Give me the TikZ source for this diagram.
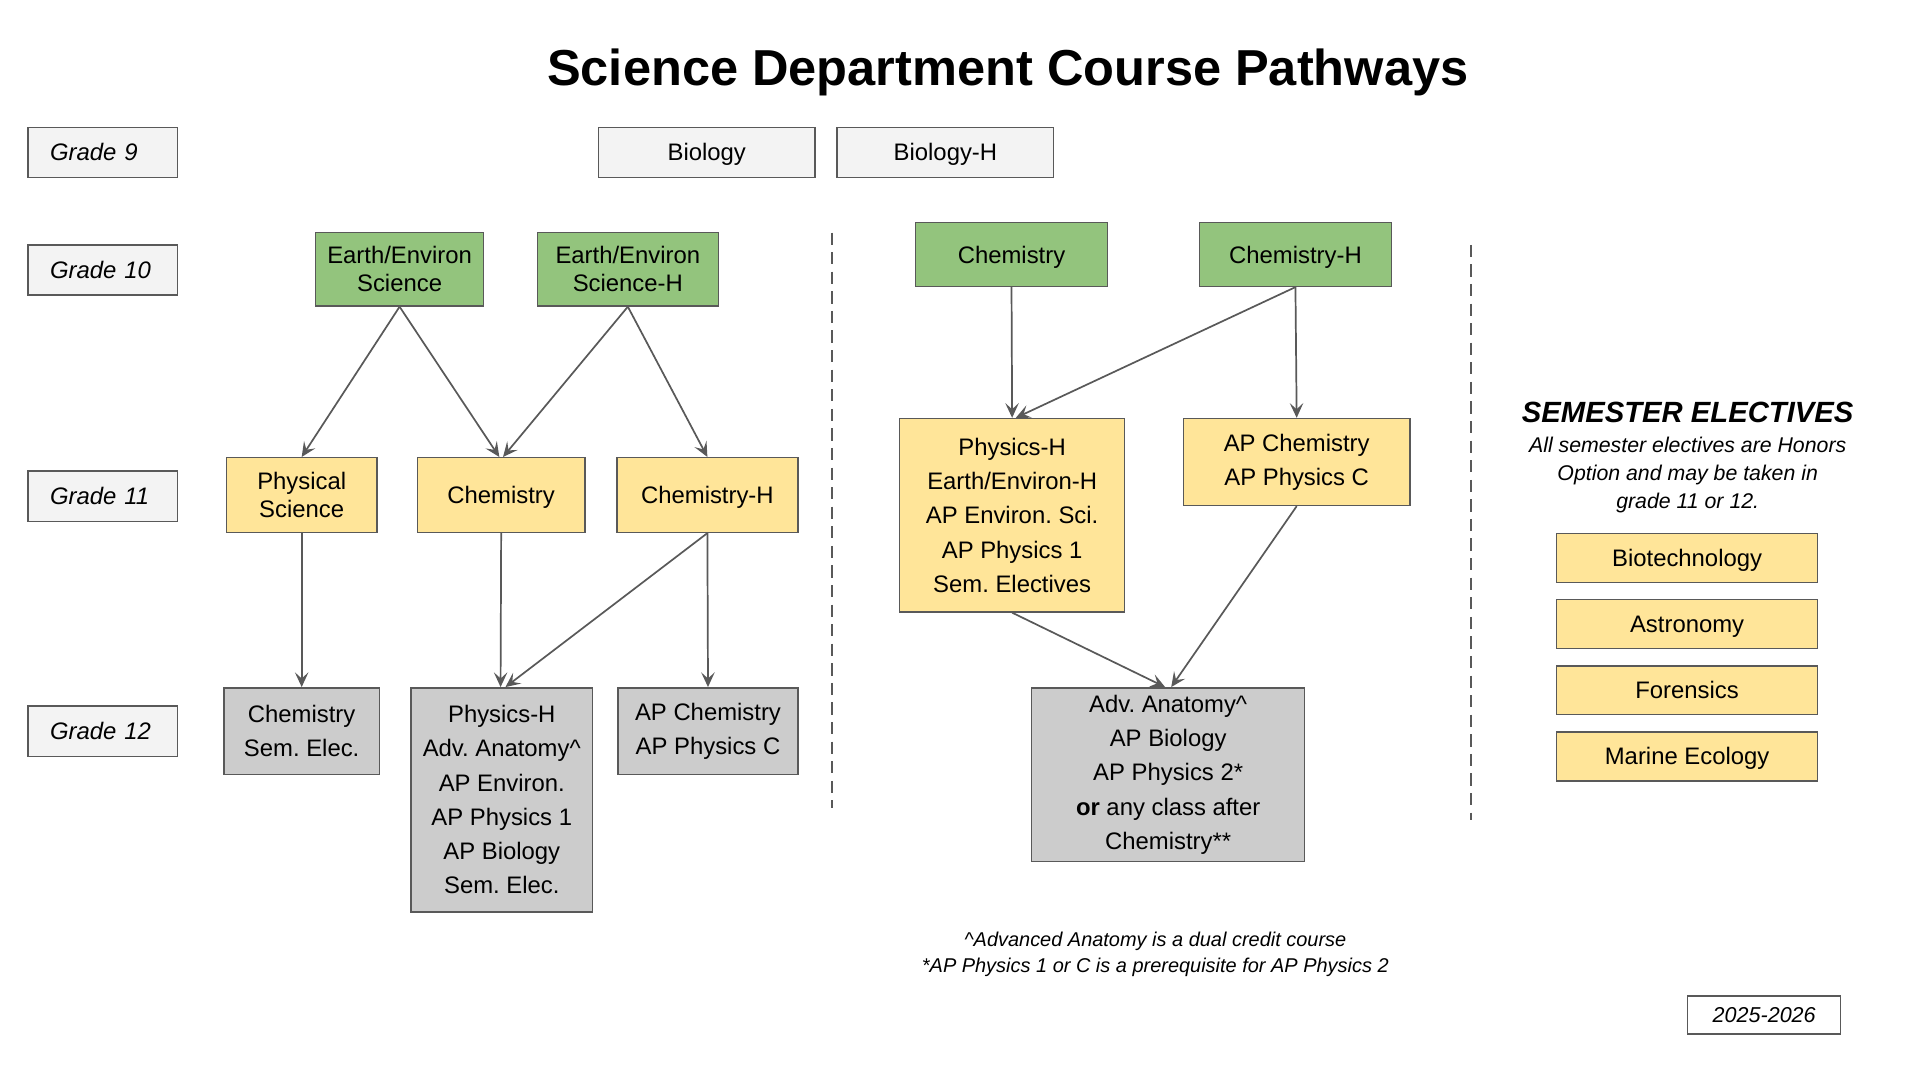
\documentclass[tikz,border=0pt]{standalone}
\usepackage{fontspec}
\setmainfont{Liberation Sans}
\usetikzlibrary{positioning,arrows.meta}
\definecolor{PathGreen}{HTML}{93C47D}
\definecolor{PathYellow}{HTML}{FFE599}
\definecolor{PathGray}{HTML}{CCCCCC}
\definecolor{PathLight}{HTML}{F3F3F3}
\definecolor{PathLine}{HTML}{595959}
\frenchspacing

\begin{document}
\begin{tikzpicture}[x=1pt,y=-1pt,
node distance=12.8pt,
course/.style={rectangle,draw=PathLine,line width=1.2pt,align=center,inner sep=0pt,
font=\fontsize{19.5}{28}\selectfont},
tight/.style={font=\fontsize{19.5}{23}\selectfont},
oneline/.style={text height=18pt,text depth=4pt},
grade/.style={course,oneline,fill=PathLight,minimum width=122pt,minimum height=41pt,
inner xsep=18pt,text width=86pt,align=left,font=\fontsize{19.5}{23}\selectfont\itshape},
g10box/.style={course,tight,fill=PathGreen},
g11box/.style={course,fill=PathYellow},
g12box/.style={course,fill=PathGray},
elective/.style={course,oneline,fill=PathYellow,minimum width=213pt,minimum height=40pt},
arrow/.style={-{Stealth[length=12pt,width=11pt,inset=5pt]},line width=1.4pt,draw=PathLine},
divider/.style={draw=PathLine,line width=1.2pt,dash pattern=on 10pt off 6pt}
]
\useasboundingbox (0,0) rectangle (1568,882);

% title
\node[anchor=base,font=\fontsize{41.3}{49}\selectfont\bfseries] (title) at (823.5,70)
{Science Department Course Pathways};

% grade labels
\node[grade] (g9) at (84,124.5) {Grade 9};
\node[grade] (g10) at (84,220.5) {Grade 10};
\node[grade] (g11) at (84,405.5) {Grade 11};
\node[grade] (g12) at (84,597.5) {Grade 12};

% grade 9
\node[course,oneline,fill=PathLight,minimum width=177pt,minimum height=41pt] (bio) at (577.5,124.5) {Biology};
\node[course,oneline,fill=PathLight,minimum width=177pt,minimum height=41pt] (bioh) at (772.5,124.5) {Biology-H};

% grade 10
\node[g10box,minimum width=137pt,minimum height=60pt] (ees) at (326.5,220) {Earth/Environ\\Science};
\node[g10box,minimum width=148pt,minimum height=60pt] (eesh) at (513,220) {Earth/Environ\\Science-H};
\node[g10box,oneline,minimum width=157pt,minimum height=52pt] (chem10) at (826.5,208) {Chemistry};
\node[g10box,oneline,minimum width=157pt,minimum height=52pt] (chemh10) at (1058.5,208) {Chemistry-H};

% grade 11
\node[g11box,tight,minimum width=123pt,minimum height=61pt] (phys11) at (246.5,404.5) {Physical\\Science};
\node[g11box,oneline,minimum width=137pt,minimum height=61pt] (chem11) at (409.5,404.5) {Chemistry};
\node[g11box,oneline,minimum width=148pt,minimum height=61pt] (chemh11) at (578,404.5) {Chemistry-H};
\node[g11box,minimum width=184pt,minimum height=158pt] (physh11) at (827,421)
{Physics-H\\Earth/Environ-H\\AP Environ. Sci.\\AP Physics 1\\Sem. Electives};
\node[g11box,minimum width=185pt,minimum height=71pt] (apchem11) at (1059.5,377.5)
{AP Chemistry\\AP Physics C};

% grade 12
\node[g12box,minimum width=127pt,minimum height=71pt] (chemsem12) at (246.5,597.5) {Chemistry\\Sem. Elec.};
\node[g12box,minimum width=148pt,minimum height=183pt] (physh12) at (410,653.5)
{Physics-H\\Adv. Anatomy\textasciicircum\\AP Environ.\\AP Physics 1\\AP Biology\\Sem. Elec.};
\node[g12box,minimum width=147pt,minimum height=71pt] (apchem12) at (578.5,597.5) {AP Chemistry\\AP Physics C};
\node[g12box,minimum width=223pt,minimum height=142pt] (adv12) at (954.5,633)
{Adv. Anatomy\textasciicircum\\AP Biology\\AP Physics 2*\\\textbf{or} any class after\\Chemistry**};

% pathways
\draw[arrow] (ees.south) -- (phys11.north);
\draw[arrow] (ees.south) -- ([xshift=-1.5pt]chem11.north);
\draw[arrow] (eesh.south) -- ([xshift=1.5pt]chem11.north);
\draw[arrow] (eesh.south) -- (chemh11.north);
\draw[arrow] (phys11.south) -- (chemsem12.north);
\draw[arrow] (chem11.south) -- ([xshift=-1pt]physh12.north);
\draw[arrow] (chemh11.south) -- ([xshift=3pt]physh12.north);
\draw[arrow] (chemh11.south) -- (apchem12.north);
\draw[arrow] (chem10.south) -- (physh11.north);
\draw[arrow] (chemh10.south) -- ([xshift=3pt]physh11.north);
\draw[arrow] (chemh10.south) -- (apchem11.north);
\draw[arrow] (physh11.south) -- ([xshift=-2.5pt]adv12.north);
\draw[arrow] (apchem11.south) -- ([xshift=2.5pt]adv12.north);

% dividers
\draw[divider] (680,190) -- (680,660);
\draw[divider] (1202,200) -- (1202,670);

% semester electives
\node[font=\fontsize{23.9}{28}\selectfont\bfseries\itshape] (electhead) at (1379,337) {SEMESTER ELECTIVES};
\node[align=center,font=\fontsize{17.4}{23}\selectfont\itshape] (electnote) at (1379,388)
{All semester electives are Honors\\Option and may be taken in\\grade 11 or 12.};
\node[elective] (biotech) at (1378.5,456) {Biotechnology};
\node[elective,below=of biotech] (astro) {Astronomy};
\node[elective,below=of astro] (foren) {Forensics};
\node[elective,below=of foren] (marine) {Marine Ecology};

% footnotes
\node[align=center,font=\fontsize{16.3}{21}\selectfont\itshape] (notes) at (944,780)
{\textasciicircum Advanced Anatomy is a dual credit course\\*AP Physics 1 or C is a prerequisite for AP Physics 2};
\node[course,fill=white,minimum width=125pt,minimum height=31pt,text height=16.6pt,text depth=4pt,
font=\fontsize{17.6}{21}\selectfont\itshape] (year) at (1441.5,829.5) {2025-2026};
\end{tikzpicture}
\end{document}
